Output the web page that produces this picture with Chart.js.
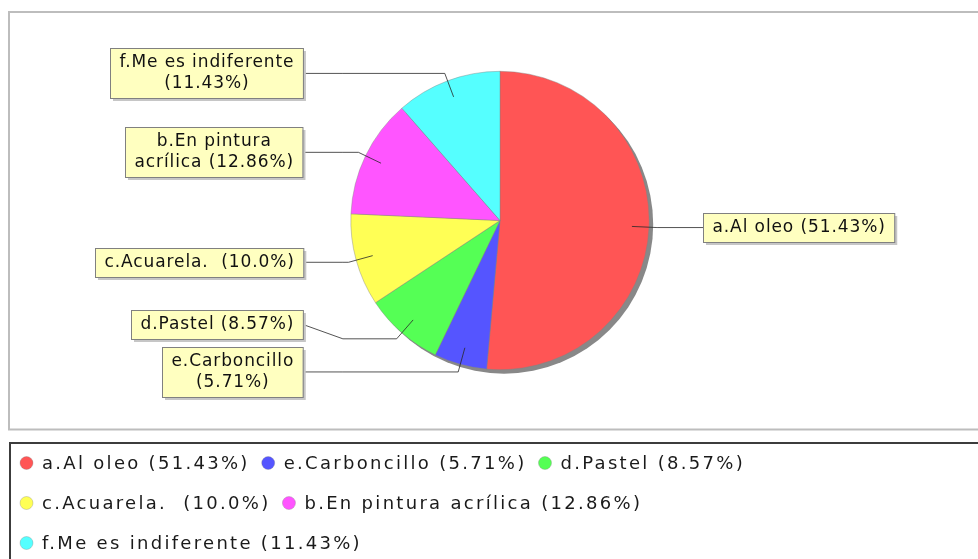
<!DOCTYPE html>
<html>
<head>
<meta charset="utf-8">
<script src="https://cdn.jsdelivr.net/npm/chart.js@4.4.0/dist/chart.umd.min.js"></script>
<style>
html, body { margin: 0; padding: 0; background: #ffffff; }
canvas { display: block; }
</style>
</head>
<body>
<canvas id="c" width="978" height="559"></canvas>
<script>
// ---- data ----
const categories = ['a.Al oleo', 'e.Carboncillo', 'd.Pastel', 'c.Acuarela. ', 'b.En pintura acrílica', 'f.Me es indiferente'];
const counts = [36, 4, 6, 7, 9, 8];
const sliceColors = ['#FF5555', '#5555FF', '#55FF55', '#FFFF55', '#FF55FF', '#55FFFF'];
const labelBreakWord = [0, 1, 0, 0, 2, 3]; // words on first line of the slice label (0 = single line)

const total = counts.reduce((a, b) => a + b, 0);
function pctText(v) {
  let s = (v / total * 100).toFixed(2);
  if (s.endsWith('0')) s = s.slice(0, -1);
  return s + '%';
}
const itemTexts = categories.map((c, i) => c + ' (' + pctText(counts[i]) + ')');
function labelLines(i) {
  const k = labelBreakWord[i];
  if (!k) return [itemTexts[i]];
  const w = itemTexts[i].split(' ');
  return [w.slice(0, k).join(' '), w.slice(k).join(' ')];
}

const FONT = '"DejaVu Sans", "Liberation Sans", sans-serif';

function distribute(list, gap) {
  list.sort((a, b) => a.y - b.y);
  for (let i = list.length - 2; i >= 0; i--) {
    const lim = list[i + 1].y - list[i + 1].h / 2 - gap - list[i].h / 2;
    if (list[i].y > lim) list[i].y = lim;
  }
  for (let i = 1; i < list.length; i++) {
    const lim = list[i - 1].y + list[i - 1].h / 2 + gap + list[i].h / 2;
    if (list[i].y < lim) list[i].y = lim;
  }
}

const jfreePie = {
  id: 'jfreePie',
  beforeDraw(chart) {
    const ctx = chart.ctx;
    ctx.save();
    ctx.fillStyle = '#ffffff';
    ctx.fillRect(0, 0, chart.width, chart.height);
    ctx.strokeStyle = '#bdbdbd';
    ctx.lineWidth = 2;
    ctx.strokeRect(9, 12, chart.width + 10, 417.5);
    ctx.restore();
  },
  beforeDatasetsDraw(chart) {
    const ctx = chart.ctx;
    const a = chart.getDatasetMeta(0).data[0];
    ctx.save();
    ctx.fillStyle = '#888888';
    ctx.beginPath();
    ctx.arc(a.x + 4, a.y + 4, a.outerRadius, 0, Math.PI * 2);
    ctx.fill();
    ctx.restore();
  },
  afterDatasetsDraw(chart) {
    const ctx = chart.ctx;
    const meta = chart.getDatasetMeta(0);
    const cx = meta.data[0].x, cy = meta.data[0].y, R = meta.data[0].outerRadius;
    const Rl = R * 1.053, lp = 0.885;
    const GAPL = 40, GAPR = 46;
    ctx.save();
    ctx.font = '17px ' + FONT;
    ctx.letterSpacing = '0.9px';
    const recs = meta.data.map((arc, i) => {
      const m = (arc.startAngle + arc.endAngle) / 2;
      const lines = labelLines(i);
      const w = Math.max(...lines.map(l => ctx.measureText(l).width)) + 18;
      const h = lines.length * 21 + 8;
      return { i, m, lines, w, h, right: Math.cos(m) >= 0, y: cy + Math.sin(m) * Rl };
    });
    distribute(recs.filter(r => !r.right), 8);
    distribute(recs.filter(r => r.right), 8);
    recs.forEach(r => {
      const ex = cx + Math.cos(r.m) * Rl, ey = cy + Math.sin(r.m) * Rl;
      const lx = cx + Math.cos(r.m) * R * lp, ly = cy + Math.sin(r.m) * R * lp;
      const ax = r.right ? cx + Rl : cx - Rl;
      const tx = r.right ? ax + GAPR : ax - GAPL;
      ctx.strokeStyle = 'rgba(40,40,40,0.8)';
      ctx.lineWidth = 1;
      ctx.beginPath();
      ctx.moveTo(lx, ly);
      ctx.lineTo(ex, ey);
      ctx.lineTo(ax, ey);
      ctx.lineTo(tx, r.y);
      ctx.stroke();
      const bx = Math.round(r.right ? tx : tx - r.w), by = Math.round(r.y - r.h / 2);
      ctx.fillStyle = '#c6c6c6';
      ctx.fillRect(bx + 3, by + 3, r.w, r.h);
      ctx.fillStyle = '#FFFFC0';
      ctx.fillRect(bx, by, r.w, r.h);
      ctx.strokeStyle = '#808080';
      ctx.strokeRect(bx + 0.5, by + 0.5, r.w, r.h);
      ctx.fillStyle = '#111111';
      ctx.textAlign = 'center';
      ctx.textBaseline = 'middle';
      r.lines.forEach((l, k) => {
        ctx.fillText(l, bx + r.w / 2 + 0.5, by + 4 + 21 * k + 11);
      });
    });
    ctx.restore();
  },
  afterDraw(chart) {
    const ctx = chart.ctx;
    ctx.save();
    ctx.strokeStyle = '#3c3c3c';
    ctx.lineWidth = 2;
    ctx.strokeRect(10, 443, chart.width + 10, 200);
    ctx.font = '18px ' + FONT;
    ctx.letterSpacing = '2.3px';
    ctx.textAlign = 'left';
    ctx.textBaseline = 'middle';
    const x0 = 20, y0 = 463, rowH = 40, maxX = chart.width - 6;
    let x = x0, row = 0;
    itemTexts.forEach((t, i) => {
      const tw = ctx.measureText(t).width;
      const iw = 22 + tw;
      if (x > x0 && x + iw > maxX) { row++; x = x0; }
      const y = y0 + row * rowH;
      ctx.beginPath();
      ctx.arc(x + 6.5, y, 6.5, 0, Math.PI * 2);
      ctx.fillStyle = sliceColors[i];
      ctx.fill();
      ctx.lineWidth = 0.6;
      ctx.strokeStyle = 'rgba(120,120,120,0.5)';
      ctx.stroke();
      ctx.fillStyle = '#1a1a1a';
      ctx.fillText(t, x + 22, y + 1);
      x += iw + 12;
    });
    ctx.restore();
  }
};

new Chart(document.getElementById('c'), {
  type: 'pie',
  data: {
    labels: categories,
    datasets: [{
      data: counts,
      backgroundColor: sliceColors,
      borderColor: 'rgba(130,130,130,0.7)',
      borderWidth: 0.6,
      hoverOffset: 0,
      offset: 0
    }]
  },
  options: {
    responsive: false,
    animation: false,
    events: [],
    layout: { padding: { top: 71, bottom: 189, left: 22, right: 0 } },
    plugins: { legend: { display: false }, tooltip: { enabled: false } }
  },
  plugins: [jfreePie]
});
</script>
</body>
</html>
